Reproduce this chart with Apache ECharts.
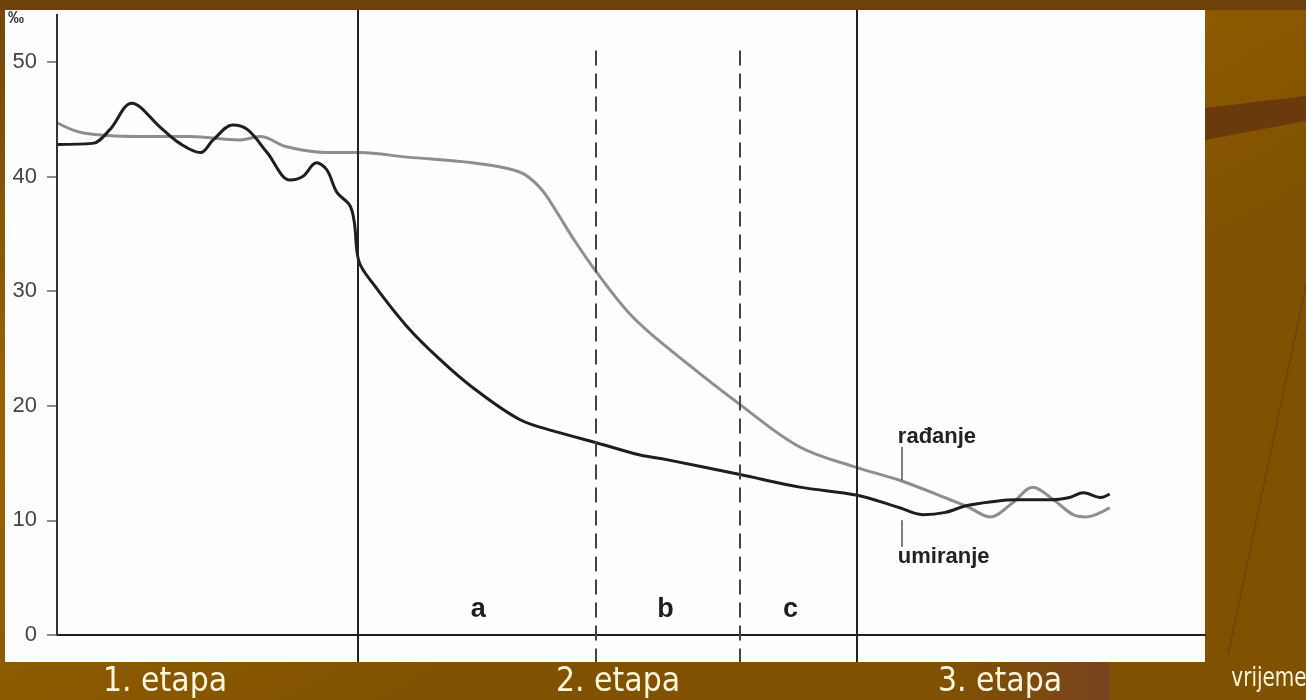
<!DOCTYPE html>
<html>
<head>
<meta charset="utf-8">
<title>Demografska tranzicija</title>
<script src="https://cdn.jsdelivr.net/npm/echarts@6/dist/echarts.min.js"></script>
<style>
  html, body { margin: 0; padding: 0; }
  #chart { width: 1306px; height: 700px; }
</style>
</head>
<body>
<div id="chart"></div>
<script>
// vrijeme (relative units 0-100) and stope u promilima
const umiranjeT = [0, 3.1, 4.6, 6.5, 9.0, 10.7, 12.5, 13.6, 15.3, 16.6, 18.3, 20.3, 21.4, 22.6, 23.5, 24.4, 25.5, 25.9, 26.3, 27.5, 30.5, 33.4, 36.2, 40.3, 43.6, 46.9, 50.8, 53.1, 59.5, 64.7, 69.7, 73.4, 75.4, 77.4, 79.3, 83.6, 86.5, 88.2, 89.4, 90.9, 91.7]
const umiranjeV = [42.8, 42.9, 44.1, 46.4, 44.3, 42.9, 42.1, 43.2, 44.5, 44.1, 42.1, 39.7, 40.0, 41.2, 40.6, 38.6, 37.5, 36.0, 32.6, 30.7, 26.9, 24.0, 21.6, 18.8, 17.7, 16.8, 15.7, 15.3, 14.0, 12.9, 12.2, 11.1, 10.5, 10.7, 11.3, 11.8, 11.8, 12.0, 12.4, 12.0, 12.3]

const radanjeT = [0, 2.3, 7.2, 11.6, 15.9, 17.7, 20.0, 23.5, 26.4, 30.5, 36.2, 40.3, 42.1, 43.6, 44.9, 46.9, 50.2, 54.5, 59.5, 64.7, 69.7, 73.4, 77.8, 79.3, 81.3, 83.2, 85.0, 86.8, 88.5, 89.6, 91.7]
const radanjeV = [44.7, 43.8, 43.5, 43.5, 43.2, 43.5, 42.6, 42.1, 42.1, 41.7, 41.2, 40.4, 39.0, 36.8, 34.7, 31.8, 27.7, 24.0, 20.1, 16.4, 14.6, 13.5, 11.8, 11.2, 10.3, 11.5, 12.9, 11.8, 10.5, 10.3, 11.1]

const yTicks = [0, 10, 20, 30, 40, 50]
const etapeGranice = [26.2, 69.7]        // 1. / 2. / 3. etapa
const podetapeGranice = [46.9, 59.5]     // a / b / c
const podetapeX = [36.7, 53.0, 63.9]
const podetapeNazivi = ['a', 'b', 'c']
const etapeNazivi = ['1. etapa', '2. etapa', '3. etapa']

const yMin = -2.36
const yMax = 54.54

const zip = (t, v) => t.map((x, i) => [x, v[i]])

const chart = echarts.init(document.getElementById('chart'))

const narrow = "'Liberation Sans Narrow', 'Liberation Sans', sans-serif"

chart.setOption({
  animation: false,
  backgroundColor: {
    type: 'linear', x: 0, y: 0, x2: 0.3, y2: 1,
    colorStops: [
      { offset: 0, color: '#74470a' },
      { offset: 0.45, color: '#9a6400' },
      { offset: 1, color: '#805200' }
    ]
  },
  grid: { left: 57, right: 101, top: 10, bottom: 38 },
  xAxis: {
    type: 'value',
    min: 0,
    max: 100,
    axisLine: { onZero: true, lineStyle: { color: '#1e1e1e', width: 2 } },
    axisTick: { show: false },
    axisLabel: { show: false },
    splitLine: { show: false }
  },
  yAxis: {
    type: 'value',
    min: yMin,
    max: yMax,
    axisLine: { show: false },
    axisTick: {
      show: true,
      customValues: yTicks,
      length: 10,
      lineStyle: { color: '#666', width: 1.5 }
    },
    axisLabel: {
      customValues: yTicks,
      margin: 20,
      color: '#444',
      fontSize: 22,
      fontFamily: narrow
    },
    splitLine: { show: false }
  },
  graphic: [
    { type: 'rect', z: -10, silent: true, shape: { x: 5, y: 10, width: 1200, height: 652 }, style: { fill: '#fefefe' } },
    { type: 'rect', z: -10, silent: true, shape: { x: 0, y: 0, width: 1306, height: 10 }, style: { fill: '#6c4208' } },
    { type: 'polygon', z: -10, silent: true, shape: { points: [[1205, 108], [1306, 96], [1306, 121], [1205, 140]] }, style: { fill: '#6a3a0c' } },
    { type: 'line', z: -10, silent: true, shape: { x1: 1306, y1: 285, x2: 1228, y2: 655 }, style: { stroke: 'rgba(90,50,0,0.45)', lineWidth: 1.5 } },
    {
      type: 'rect', z: -9, silent: true, shape: { x: 930, y: 662, width: 180, height: 38 },
      style: {
        fill: { type: 'linear', x: 0, y: 0, x2: 1, y2: 0,
          colorStops: [{ offset: 0, color: 'rgba(120,70,30,0)' }, { offset: 1, color: 'rgba(120,65,35,0.9)' }] }
      }
    },
    { type: 'text', x: 8, y: 11, silent: true, style: { text: '‰', font: 'bold 16px ' + narrow, fill: '#333' } },
    { type: 'text', x: 165, y: 699, scaleY: 1.15, silent: true, style: { text: etapeNazivi[0], font: "30px 'DejaVu Sans'", fill: '#fff6dc', textAlign: 'center', textVerticalAlign: 'bottom' } },
    { type: 'text', x: 618, y: 699, scaleY: 1.15, silent: true, style: { text: etapeNazivi[1], font: "30px 'DejaVu Sans'", fill: '#fff6dc', textAlign: 'center', textVerticalAlign: 'bottom' } },
    { type: 'text', x: 1000, y: 699, scaleY: 1.15, silent: true, style: { text: etapeNazivi[2], font: "30px 'DejaVu Sans'", fill: '#fff6dc', textAlign: 'center', textVerticalAlign: 'bottom' } },
    { type: 'text', x: 1269, y: 692, scaleY: 1.35, silent: true, style: { text: 'vrijeme', font: "20px 'DejaVu Sans'", fill: '#fff6dc', textAlign: 'center', textVerticalAlign: 'bottom' } }
  ],
  series: [
    {
      name: 'rađanje',
      type: 'line',
      data: zip(radanjeT, radanjeV),
      smooth: 0.35,
      showSymbol: false,
      lineStyle: { color: '#8e8e8e', width: 3 },
      z: 3,
      markPoint: {
        symbol: 'circle',
        symbolSize: 1,
        itemStyle: { color: 'rgba(0,0,0,0)' },
        label: {
          show: true,
          position: 'right',
          distance: 0,
          color: '#222',
          fontSize: 22,
          fontWeight: 'bold',
          fontFamily: narrow,
          formatter: p => p.name
        },
        data: [
          { name: 'rađanje', coord: [73.2, 17.3] },
          { name: 'umiranje', coord: [73.2, 6.8] }
        ]
      }
    },
    {
      name: 'umiranje',
      type: 'line',
      data: zip(umiranjeT, umiranjeV),
      smooth: 0.35,
      showSymbol: false,
      lineStyle: { color: '#1e1e1e', width: 3 },
      z: 4,
      markPoint: {
        symbol: 'circle',
        symbolSize: 1,
        itemStyle: { color: 'rgba(0,0,0,0)' },
        label: {
          show: true,
          position: 'inside',
          color: '#1e1e1e',
          fontSize: 27,
          fontWeight: 'bold',
          fontFamily: narrow,
          formatter: p => p.name
        },
        data: podetapeX.map((x, i) => ({ name: podetapeNazivi[i], coord: [x, 2.2] }))
      }
    },
    {
      // axis line, phase boundaries, leader lines
      type: 'line',
      data: [],
      markLine: {
        silent: true,
        symbol: 'none',
        label: { show: false },
        data: [
          [{ coord: [0, 0], lineStyle: { color: '#333', width: 2, type: 'solid' } }, { coord: [0, 54.2] }],
          ...etapeGranice.map(x => ({ xAxis: x, lineStyle: { color: '#222', width: 2, type: 'solid' } })),
          ...podetapeGranice.map(x => [
            { coord: [x, 51.0], lineStyle: { color: '#444', width: 2, type: [15, 8] } },
            { coord: [x, yMin] }
          ]),
          [{ coord: [73.6, 16.4], lineStyle: { color: '#555', width: 1.5, type: 'solid' } }, { coord: [73.6, 13.5] }],
          [{ coord: [73.6, 10.0], lineStyle: { color: '#555', width: 1.5, type: 'solid' } }, { coord: [73.6, 7.7] }]
        ]
      }
    }
  ]
})
</script>
</body>
</html>
